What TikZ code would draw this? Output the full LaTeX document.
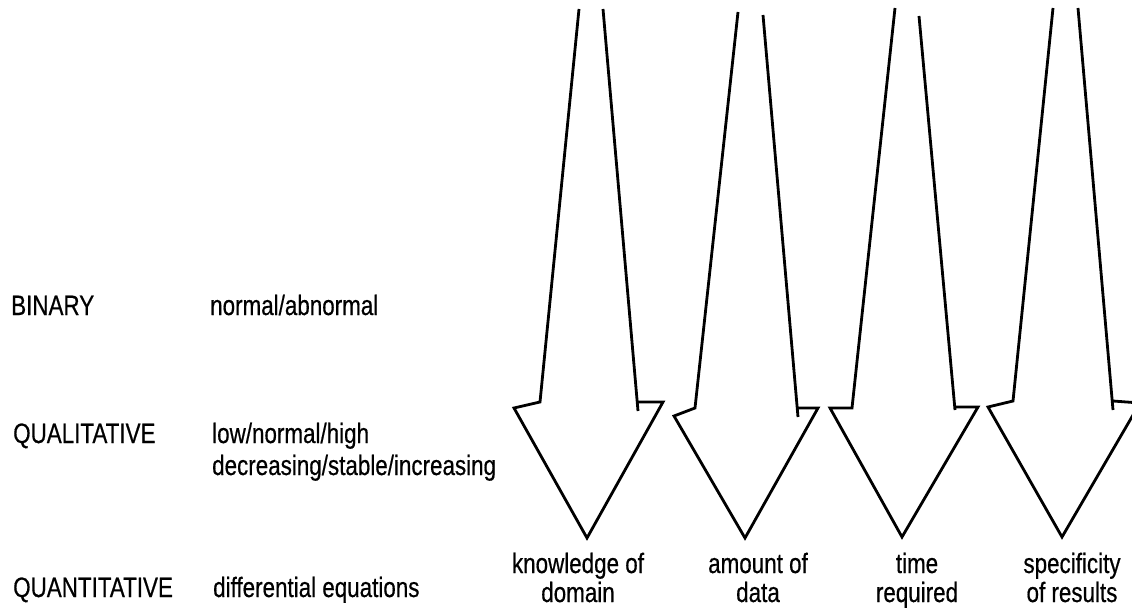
\documentclass[tikz,border=0pt]{standalone}
\usepackage{fontspec}
\setmainfont{Liberation Sans}[FakeStretch=0.8,FakeBold=0.5]
\begin{document}
\begin{tikzpicture}[x=1pt,y=-1pt,
  lbl/.style={font=\fontsize{28}{32}\selectfont, inner sep=0pt, anchor=base west, align=left},
  albl/.style={font=\fontsize{28}{29}\selectfont, inner sep=0pt, anchor=base, align=center},
  fatarrow/.style={draw=black, line width=2.8pt, line join=miter}]
\useasboundingbox (0,0) rectangle (1132,615);
\clip (0,0) rectangle (1132,615);

% left column
\node[lbl] (bin) at (11,315) {BINARY};
\node[lbl] (qual) at (13,443) {QUALITATIVE};
\node[lbl] (quant) at (13,597) {QUANTITATIVE};
\node[lbl] (binx) at (210,315) {normal/abnormal};
\node[lbl] (qualx) at (212,475) {low/normal/high\\decreasing/stable/increasing};
\node[lbl] (quantx) at (213,597) {differential equations};

% arrows
\draw[fatarrow] (579,9) -- (540,402) -- (514,408) -- (587,538) -- (663,402) -- (638,402);
\draw[fatarrow] (603,9) -- (638,411);

\draw[fatarrow] (738,12) -- (695,408) -- (674,416) -- (745,538) -- (818,408) -- (798,408);
\draw[fatarrow] (763,15) -- (798,417);

\draw[fatarrow] (895,8) -- (852,408) -- (830,408) -- (902,537) -- (978,407) -- (955,407);
\draw[fatarrow] (919,16) -- (955,410);

\draw[fatarrow] (1053,8) -- (1013,401) -- (988,407) -- (1062,537) -- (1140,403) -- (1113,401);
\draw[fatarrow] (1078,8) -- (1113,410);

% arrow labels
\node[albl] (know) at (578,602) {knowledge of\\domain};
\node[albl] (amount) at (758,602) {amount of\\data};
\node[albl] (time) at (917,602) {time\\required};
\node[albl] (spec) at (1072,602) {specificity\\of results};
\end{tikzpicture}
\end{document}
